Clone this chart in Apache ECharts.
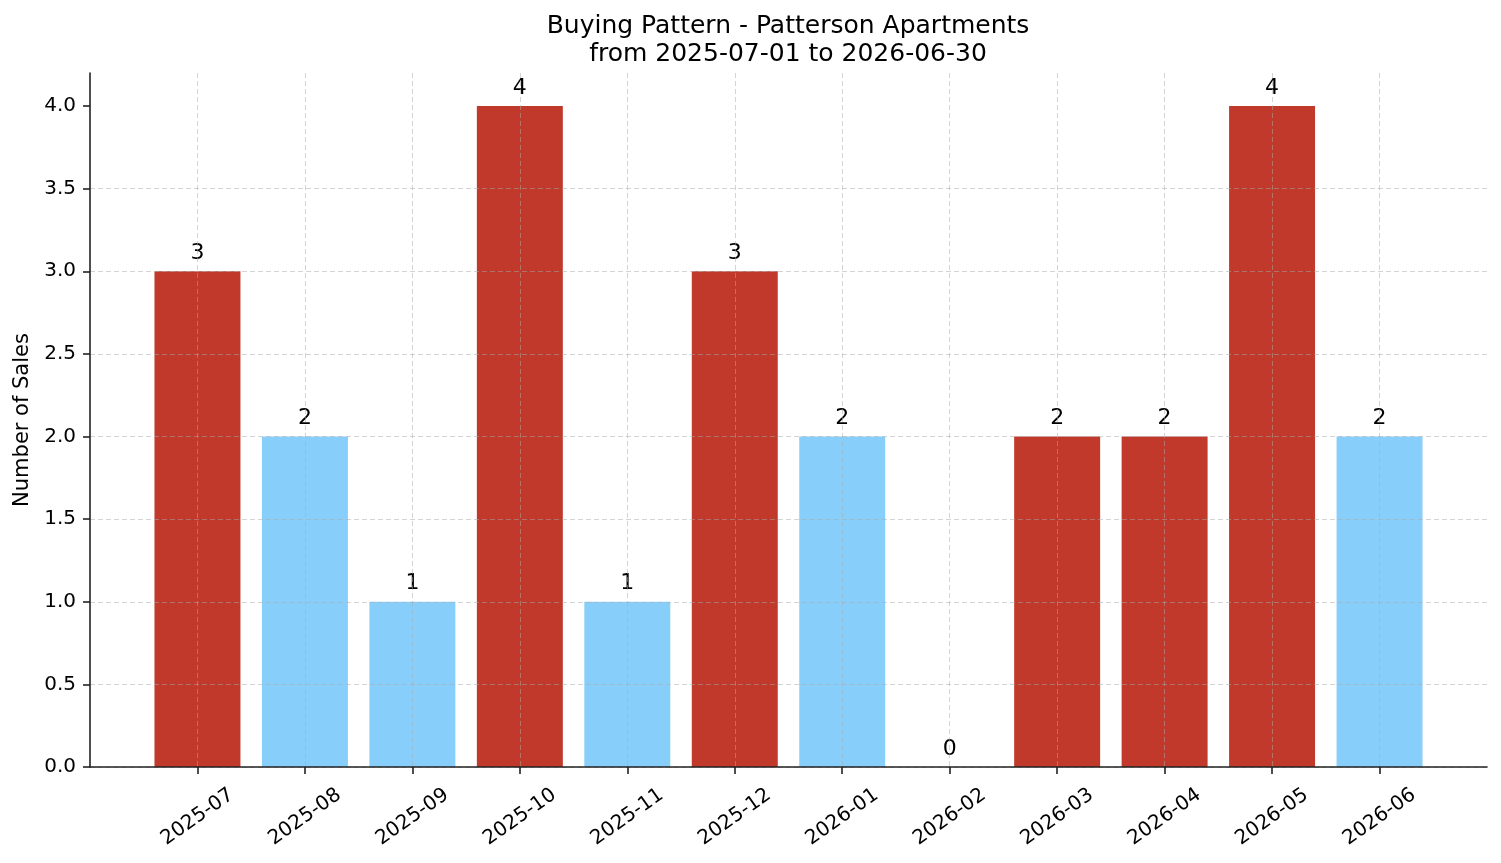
<!DOCTYPE html>
<html>
<head>
<meta charset="utf-8">
<script src="https://cdn.jsdelivr.net/npm/echarts@6/dist/echarts.min.js"></script>
<style>
html,body{margin:0;padding:0;background:#fff;}
#c{width:1501px;height:863px;}
</style>
</head>
<body>
<div id="c"></div>
<script>
const categories = ['2025-07','2025-08','2025-09','2025-10','2025-11','2025-12','2026-01','2026-02','2026-03','2026-04','2026-05','2026-06'];
const sales = [3, 2, 1, 4, 1, 3, 2, 0, 2, 2, 4, 2];
const barColors = ['#C0392B','#87CEFA','#87CEFA','#C0392B','#87CEFA','#C0392B','#87CEFA','#87CEFA','#C0392B','#C0392B','#C0392B','#87CEFA'];
const yTicks = [0, 0.5, 1.0, 1.5, 2.0, 2.5, 3.0, 3.5, 4.0];
const titleText = 'Buying Pattern - Patterson Apartments\nfrom 2025-07-01 to 2026-06-30';
const yLabel = 'Number of Sales';

const FONT = 'DejaVu Sans';
const axisCats = [''].concat(categories, ['']);
const barData = ['-'].concat(sales.map((v, i) => ({value: v, itemStyle: {color: barColors[i]}})), ['-']);
const isInner = (idx) => idx > 0 && idx < axisCats.length - 1;
const gridColor = 'rgba(170,170,170,0.5)';

const chart = echarts.init(document.getElementById('c'), null, {renderer: 'canvas'});
chart.setOption({
  animation: false,
  backgroundColor: '#ffffff',
  title: {
    text: titleText,
    left: 783,
    textAlign: 'center',
    top: 7,
    textStyle: {fontFamily: FONT, fontSize: 25, fontWeight: 'normal', color: '#000', lineHeight: 28}
  },
  grid: {left: 90, right: 14, top: 73, bottom: 96, containLabel: false, outerBoundsMode: 'none'},
  xAxis: {
    type: 'category',
    data: axisCats,
    boundaryGap: false,
    z: 3,
    axisLine: {show: true, lineStyle: {color: '#222', width: 1.6}},
    axisTick: {show: true, length: 7, lineStyle: {color: '#222', width: 1.6}, interval: (i) => isInner(i)},
    axisLabel: {
      interval: (i) => isInner(i),
      rotate: 35,
      align: 'center',
      verticalAlign: 'middle',
      margin: 50,
      fontFamily: FONT,
      fontSize: 20,
      color: '#000'
    },
    splitLine: {show: true, interval: (i) => isInner(i), lineStyle: {color: gridColor, type: [5, 3], width: 1}}
  },
  yAxis: {
    type: 'value',
    min: 0,
    max: 4.2,
    interval: 0.5,
    z: 3,
    name: yLabel,
    nameLocation: 'middle',
    nameRotate: 90,
    nameGap: 56,
    nameTextStyle: {fontFamily: FONT, fontSize: 21, color: '#000'},
    axisLine: {show: true, lineStyle: {color: '#222', width: 1.6}},
    axisTick: {show: true, length: 7, lineStyle: {color: '#222', width: 1.6}, customValues: yTicks},
    axisLabel: {
      customValues: yTicks,
      formatter: (v) => Number(v).toFixed(1),
      margin: 14,
      fontFamily: FONT,
      fontSize: 20,
      color: '#000'
    },
    splitLine: {show: true, showMaxLine: false, lineStyle: {color: gridColor, type: [5, 3], width: 1}}
  },
  series: [{
    type: 'bar',
    data: barData,
    barWidth: '80%',
    z: 2,
    label: {
      show: true,
      position: 'top',
      distance: 7,
      fontFamily: FONT,
      fontSize: 22,
      color: '#000'
    }
  }]
});
</script>
</body>
</html>
